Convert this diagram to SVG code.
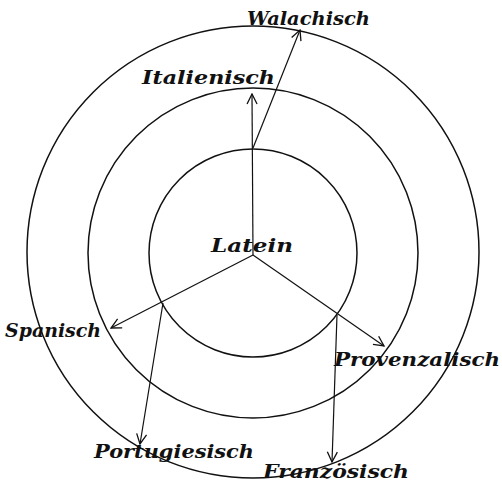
<svg xmlns="http://www.w3.org/2000/svg" width="502" height="485" viewBox="0 0 502 485">
<style>
.ring{fill:none;stroke:#111;stroke-width:1.5}
.edge{fill:none;stroke:#111;stroke-width:1.2}
.lbl{font-family:"DejaVu Serif","Liberation Serif",serif;font-style:italic;font-weight:bold;font-size:18px;fill:#111}
</style>
<defs>
<marker id="ah" viewBox="0 0 12 12" refX="11" refY="6" markerWidth="12" markerHeight="12" markerUnits="userSpaceOnUse" orient="auto">
<path d="M1,1 L11,6 L1,11" fill="none" stroke="#111" stroke-width="1.3"/>
</marker>
</defs>
<rect width="502" height="485" fill="#fff"/>
<g id="rings">
<circle class="ring" cx="253" cy="253" r="104"/>
<circle class="ring" cx="253" cy="253" r="165"/>
<circle class="ring" cx="253" cy="252" r="226"/>
</g>
<g id="connectors">
<line class="edge" x1="253" y1="255" x2="252" y2="94" marker-end="url(#ah)"/>
<line class="edge" x1="253" y1="148" x2="300" y2="30" marker-end="url(#ah)"/>
<line class="edge" x1="253" y1="255" x2="111" y2="328" marker-end="url(#ah)"/>
<line class="edge" x1="163" y1="303" x2="140" y2="444" marker-end="url(#ah)"/>
<line class="edge" x1="253" y1="255" x2="384" y2="346" marker-end="url(#ah)"/>
<line class="edge" x1="337" y1="315" x2="332" y2="462" marker-end="url(#ah)"/>
</g>
<g id="latein"><text class="lbl" x="211" y="252" textLength="82" lengthAdjust="spacingAndGlyphs">Latein</text></g>
<g id="italienisch"><text class="lbl" x="142" y="84" textLength="133" lengthAdjust="spacingAndGlyphs">Italienisch</text></g>
<g id="walachisch"><text class="lbl" x="247" y="25" textLength="123" lengthAdjust="spacingAndGlyphs">Walachisch</text></g>
<g id="spanisch"><text class="lbl" x="5" y="337" textLength="96" lengthAdjust="spacingAndGlyphs">Spanisch</text></g>
<g id="provenzalisch"><text class="lbl" x="334" y="366" textLength="166" lengthAdjust="spacingAndGlyphs">Provenzalisch</text></g>
<g id="portugiesisch"><text class="lbl" x="94" y="458" textLength="160" lengthAdjust="spacingAndGlyphs">Portugiesisch</text></g>
<g id="franzoesisch"><text class="lbl" x="263" y="478" textLength="146" lengthAdjust="spacingAndGlyphs">Französisch</text></g>
</svg>
